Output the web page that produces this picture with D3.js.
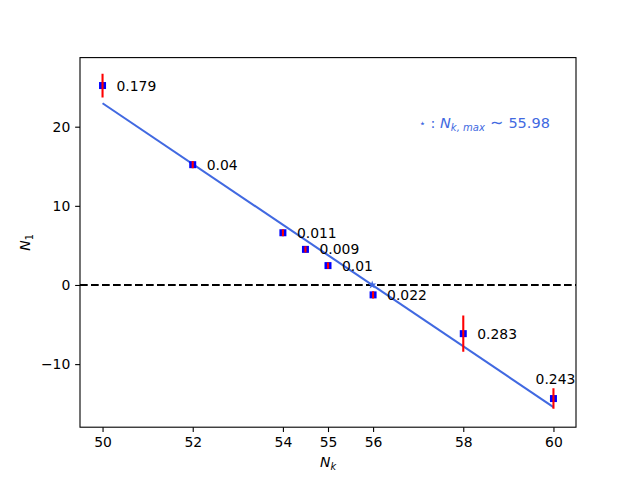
<!DOCTYPE html>
<html><head><meta charset="utf-8">
<script src="https://cdn.jsdelivr.net/npm/d3@7"></script>
<style>
body{margin:0;background:#fff;}
text{font-family:"DejaVu Sans",sans-serif;}
</style></head>
<body><svg id="c" width="640" height="480"></svg>
<script>
const xVals = [50, 52, 54, 54.5, 55, 56, 58, 60];
const yVals = [25.2, 15.2, 6.6, 4.5, 2.45, -1.25, -6.15, -14.35];
const yErr  = [1.5, 0.45, 0.45, 0.4, 0.4, 0.45, 2.3, 1.3];
const labels = ["0.179", "0.04", "0.011", "0.009", "0.01", "0.022", "0.283", "0.243"];
const xTicks = [50, 52, 54, 55, 56, 58, 60];
const yTicks = [-10, 0, 10, 20];
const fitSlope = -3.84;
const nkMax = 55.98;
const fitRange = [50, 60];

const svg = d3.select("#c");
const L = 80, R = 576, T = 57.6, B = 427.2;
const x = d3.scaleLinear().domain([49.5, 60.5]).range([L, R]);
const y = d3.scaleLinear().domain([-17.97, 28.73]).range([B, T]);
const fs = 13.9;

svg.append("clipPath").attr("id","clip").append("rect")
  .attr("x",L).attr("y",T).attr("width",R-L).attr("height",B-T);
const g = svg.append("g").attr("clip-path","url(#clip)");

g.append("line").attr("x1",L).attr("x2",R).attr("y1",y(0)).attr("y2",y(0))
  .attr("stroke","#000").attr("stroke-width",2.08).attr("stroke-dasharray","7.7,3.3");

const fit = v => fitSlope*(v-nkMax);
g.append("line").attr("x1",x(fitRange[0])).attr("y1",y(fit(fitRange[0])))
  .attr("x2",x(fitRange[1])).attr("y2",y(fit(fitRange[1])))
  .attr("stroke","#4169e1").attr("stroke-width",2.08);

g.append("path").attr("d", d3.symbol(d3.symbolStar, 22)())
  .attr("transform",`translate(${x(nkMax)},${y(0)})`).attr("fill","#4169e1");

xVals.forEach((xv,i)=>{
  const cx = x(xv), cy = y(yVals[i]);
  g.append("rect").attr("x",cx-3.5).attr("y",cy-3.5).attr("width",7).attr("height",7).attr("fill","#0000ff");
  g.append("line").attr("x1",cx).attr("x2",cx)
    .attr("y1",y(yVals[i]-yErr[i])).attr("y2",y(yVals[i]+yErr[i]))
    .attr("stroke","#ff0000").attr("stroke-width",2.08);
});

xVals.forEach((xv,i)=>{
  const last = i === xVals.length-1;
  svg.append("text")
    .attr("x", last ? x(xv)+2 : x(xv)+14)
    .attr("y", last ? y(yVals[i]+2.5)+5 : y(yVals[i])+5)
    .attr("text-anchor", last ? "middle" : "start")
    .attr("font-size",fs).attr("fill","#000").text(labels[i]);
});

const ann = svg.append("text").attr("x",419).attr("y",128).attr("font-size",14.5).attr("fill","#4169e1");
ann.append("tspan").attr("font-size",11).attr("dy",-1).text("⋆");
ann.append("tspan").attr("dy",1).text(" : ");
ann.append("tspan").attr("font-style","italic").text("N");
ann.append("tspan").attr("font-style","italic").attr("font-size",10).attr("dy",3).text("k, max");
ann.append("tspan").attr("dy",-3).attr("font-size",16).text(" \u223C ");
ann.append("tspan").text("55.98");

const xa = svg.append("g").attr("transform",`translate(0,${B})`)
  .call(d3.axisBottom(x).tickValues(xTicks).tickSize(4.86).tickPadding(4.9).tickFormat(d3.format("d")));
const ya = svg.append("g").attr("transform",`translate(${L},0)`)
  .call(d3.axisLeft(y).tickValues(yTicks).tickSize(4.86).tickPadding(4.9).tickFormat(d=> d<0 ? "\u2212"+Math.abs(d) : d));
[xa,ya].forEach(a=>{
  a.selectAll("text").attr("font-size",fs).attr("font-family","DejaVu Sans").attr("fill","#000");
  a.selectAll("line").attr("stroke","#000").attr("stroke-width",1.1);
  a.select(".domain").remove();
});
svg.append("rect").attr("x",L).attr("y",T).attr("width",R-L).attr("height",B-T)
  .attr("fill","none").attr("stroke","#000").attr("stroke-width",1.1);

const xl = svg.append("text").attr("x",(L+R)/2).attr("y",467).attr("text-anchor","middle").attr("font-size",fs);
xl.append("tspan").attr("font-style","italic").text("N");
xl.append("tspan").attr("font-style","italic").attr("font-size",9.7).attr("dy",3).text("k");

const yl = svg.append("text").attr("transform",`translate(30,${(T+B)/2}) rotate(-90)`).attr("text-anchor","middle").attr("font-size",fs);
yl.append("tspan").attr("font-style","italic").text("N");
yl.append("tspan").attr("font-size",9.7).attr("dy",3).text("1");
</script></body></html>
